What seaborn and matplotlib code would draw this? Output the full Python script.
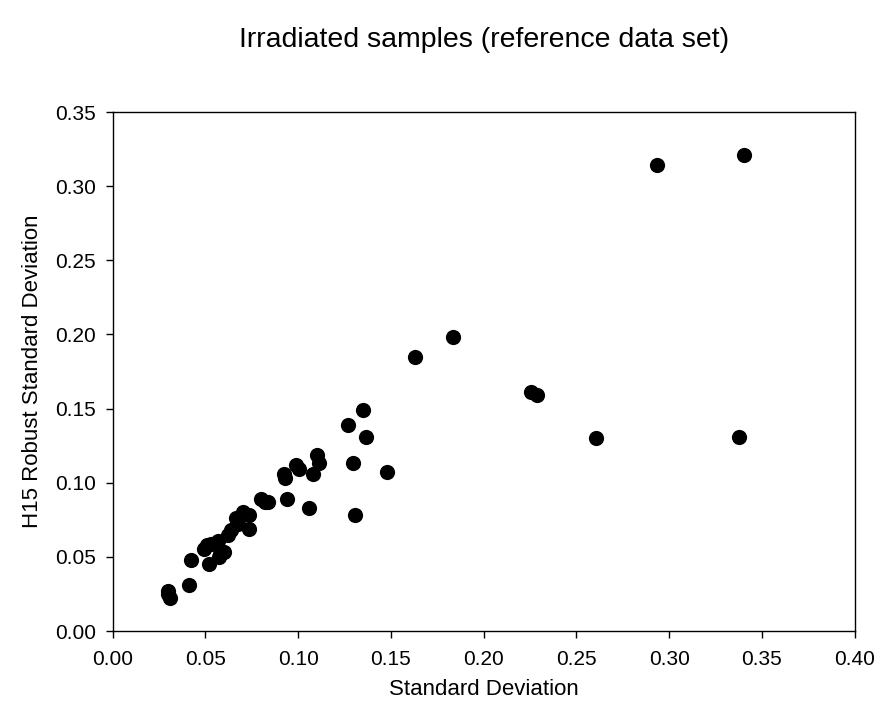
import matplotlib
matplotlib.use("Agg")
import matplotlib.pyplot as plt
import seaborn as sns
import pandas as pd

sd = [0.0296, 0.0306, 0.030, 0.041, 0.042, 0.052, 0.049, 0.051, 0.053, 0.0566,
      0.058, 0.0575, 0.060, 0.062, 0.064, 0.0665, 0.0673, 0.070, 0.0737, 0.0737,
      0.080, 0.082, 0.0835, 0.093, 0.0925, 0.094, 0.099, 0.1006, 0.106, 0.1078,
      0.111, 0.110, 0.1293, 0.1266, 0.1347, 0.1365, 0.1308, 0.1478, 0.1629, 0.1832,
      0.2254, 0.2290, 0.2605, 0.3377, 0.2934, 0.3404]
h15 = [0.027, 0.022, 0.025, 0.031, 0.048, 0.045, 0.055, 0.058, 0.059, 0.061,
       0.052, 0.050, 0.053, 0.065, 0.068, 0.076, 0.072, 0.080, 0.078, 0.069,
       0.089, 0.087, 0.087, 0.103, 0.106, 0.089, 0.112, 0.109, 0.083, 0.106,
       0.113, 0.119, 0.113, 0.139, 0.149, 0.131, 0.078, 0.107, 0.185, 0.198,
       0.161, 0.159, 0.130, 0.131, 0.314, 0.321]
xticks = [0.00, 0.05, 0.10, 0.15, 0.20, 0.25, 0.30, 0.35, 0.40]
yticks = [0.00, 0.05, 0.10, 0.15, 0.20, 0.25, 0.30, 0.35]

df = pd.DataFrame({"Standard Deviation": sd, "H15 Robust Standard Deviation": h15})

sns.set_style("ticks")
plt.rcParams['font.family'] = ['Liberation Sans', 'DejaVu Sans']

fig = plt.figure(figsize=(8.81, 7.2), dpi=100)
ax = fig.add_axes([0.128, 0.1236, 0.842, 0.7208])
sns.scatterplot(data=df, x="Standard Deviation", y="H15 Robust Standard Deviation",
                ax=ax, color="black", s=120, edgecolor="black", linewidth=0)
ax.set_xlim(0, 0.40)
ax.set_ylim(0, 0.35)
ax.set_xticks(xticks)
ax.set_yticks(yticks)
ax.set_xticklabels([f"{t:.2f}" for t in xticks], fontsize=15)
ax.set_yticklabels([f"{t:.2f}" for t in yticks], fontsize=15)
ax.tick_params(direction="out", length=5, width=1, color="black", labelcolor="black")
ax.tick_params(axis="x", pad=9)
ax.tick_params(axis="y", pad=7)
for s in ax.spines.values():
    s.set_visible(True)
    s.set_color("black")
    s.set_linewidth(1)
ax.set_xlabel("Standard Deviation", fontsize=16, labelpad=7, color="black")
ax.set_ylabel("H15 Robust Standard Deviation", fontsize=16, labelpad=9, color="black")
fig.text(0.549, 0.944, "Irradiated samples (reference data set)", ha="center", va="center",
         fontsize=20.5, color="black")
fig.savefig("out.png", dpi=100)
